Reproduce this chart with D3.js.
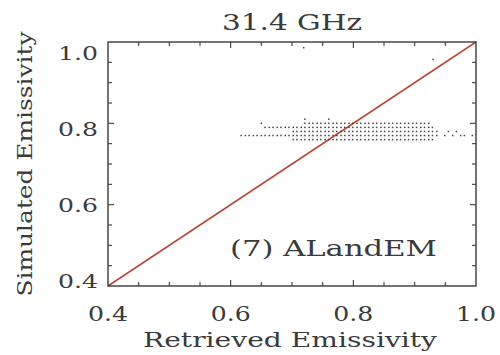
<!DOCTYPE html>
<html><head><meta charset="utf-8">
<script src="https://cdn.jsdelivr.net/npm/d3@7"></script>
<style>html,body{margin:0;padding:0;background:#fff;} svg{display:block;}</style>
</head><body>
<div id="chart"></div>
<script>
const title = "31.4 GHz";
const xLabel = "Retrieved Emissivity";
const yLabel = "Simulated Emissivity";
const note = "(7) ALandEM";
const xTicks = [0.4, 0.6, 0.8, 1.0];
const yTicks = [0.4, 0.6, 0.8, 1.0];
const tickLabels = ["0.4", "0.6", "0.8", "1.0"];
const minorTicks = [0.45,0.5,0.55,0.6,0.65,0.7,0.75,0.8,0.85,0.9,0.95];

// scatter rows: simulated value -> retrieved values
const row081 = [0.721, 0.760];
const row080 = [0.650, 0.721,0.728,0.734,0.741,0.747,0.754,0.760,0.767,0.773,0.780,0.786,0.793,0.799,0.806,0.812,0.819,0.825,0.832,0.838,0.845,0.851,0.858,0.864,0.871,0.877,0.884,0.890,0.897,0.903,0.910,0.916,0.923];
const row079 = [0.656,0.663,0.669,0.676,0.682,0.689,0.695,0.702,0.708,0.715,0.721,0.728,0.734,0.741,0.747,0.754,0.760,0.767,0.773,0.780,0.786,0.793,0.799,0.806,0.812,0.819,0.825,0.832,0.838,0.845,0.851,0.858,0.864,0.871,0.877,0.884,0.890,0.897,0.903,0.910,0.916,0.923,0.929];
const row078 = [0.702,0.708,0.715,0.721,0.728,0.734,0.741,0.747,0.754,0.760,0.767,0.773,0.780,0.786,0.793,0.799,0.806,0.812,0.819,0.825,0.832,0.838,0.845,0.851,0.858,0.864,0.871,0.877,0.884,0.890,0.897,0.903,0.910,0.916,0.923,0.929,0.936,0.955,0.968];
const row077 = [0.617,0.624,0.630,0.637,0.643,0.650,0.656,0.663,0.669,0.676,0.682,0.689,0.695,0.702,0.708,0.715,0.721,0.728,0.734,0.741,0.747,0.754,0.760,0.767,0.773,0.780,0.786,0.793,0.799,0.806,0.812,0.819,0.825,0.832,0.838,0.845,0.851,0.858,0.864,0.871,0.877,0.884,0.890,0.897,0.903,0.910,0.916,0.923,0.929,0.936,0.949,0.962,0.975,0.981,0.994];
const row076 = [0.702,0.708,0.715,0.721,0.728,0.734,0.741,0.747,0.754,0.760,0.767,0.773,0.780,0.786,0.793,0.799,0.806,0.812,0.819,0.825,0.832,0.838,0.845,0.851,0.858,0.864,0.871,0.877,0.884,0.890,0.897,0.903,0.910,0.916,0.923,0.929];
const outliersX = [0.719, 0.930];
const outliersY = [0.986, 0.957];
const oneToOne = [0.4, 1.0];

const rows = [[0.81,row081],[0.80,row080],[0.79,row079],[0.78,row078],[0.77,row077],[0.76,row076]];
const points = [];
rows.forEach(([yv, xs]) => xs.forEach(xv => points.push({x:xv, y:yv})));
outliersX.forEach((xv,i) => points.push({x:xv, y:outliersY[i]}));

const W = 500, H = 355;
const L = 108, R = 476, T = 42, B = 286;
const ink = "#3a3a3a";
const font = "DejaVu Serif";

const svg = d3.select("#chart").append("svg").attr("width", W).attr("height", H);
svg.append("rect").attr("width", W).attr("height", H).attr("fill", "#fff");

const x = d3.scaleLinear().domain([0.4, 1.0]).range([L, R]);
const y = d3.scaleLinear().domain([0.4, 1.0]).range([B, T]);
const yLab = d3.scaleLinear().domain([0.4, 1.0]).range([281, 53]);

// one-to-one line
svg.append("line")
  .attr("x1", x(oneToOne[0])).attr("y1", y(oneToOne[0]))
  .attr("x2", x(oneToOne[1])).attr("y2", y(oneToOne[1]))
  .attr("stroke", "#b8463f").attr("stroke-width", 1.5);

// points
svg.append("g").selectAll("rect").data(points).join("rect")
  .attr("x", d => x(d.x) - 0.75).attr("y", d => y(d.y) - 0.75)
  .attr("width", 1.5).attr("height", 1.5).attr("fill", "#444");

// frame
svg.append("rect").attr("x", L).attr("y", T).attr("width", R - L).attr("height", B - T)
  .attr("fill", "none").attr("stroke", ink).attr("stroke-width", 1.4);

// ticks (inside, all four sides)
const tg = svg.append("g").attr("stroke", ink).attr("stroke-width", 1.1);
minorTicks.forEach(v => {
  const len = (Math.abs(Math.round(v*10) - v*10) < 1e-6 && Math.round(v*10) % 2 === 0) ? 6 : 4;
  tg.append("line").attr("x1", x(v)).attr("x2", x(v)).attr("y1", B).attr("y2", B - len);
  tg.append("line").attr("x1", x(v)).attr("x2", x(v)).attr("y1", T).attr("y2", T + len);
  tg.append("line").attr("y1", y(v)).attr("y2", y(v)).attr("x1", L).attr("x2", L + len);
  tg.append("line").attr("y1", y(v)).attr("y2", y(v)).attr("x1", R).attr("x2", R - len);
});

// tick labels
svg.append("g").selectAll("text").data(xTicks).join("text")
  .attr("x", d => x(d)).attr("y", 321)
  .attr("text-anchor", "middle").attr("font-family", font).attr("font-size", 20)
  .attr("fill", ink).attr("textLength", 40).attr("lengthAdjust", "spacingAndGlyphs")
  .text((d,i) => tickLabels[i]);
svg.append("g").selectAll("text").data(yTicks).join("text")
  .attr("x", 98).attr("y", d => yLab(d)).attr("dy", "0.36em")
  .attr("text-anchor", "end").attr("font-family", font).attr("font-size", 19)
  .attr("fill", ink).attr("textLength", 40).attr("lengthAdjust", "spacingAndGlyphs")
  .text((d,i) => tickLabels[i]);

// title
svg.append("text").attr("x", 292).attr("y", 30).attr("text-anchor", "middle")
  .attr("font-family", font).attr("font-size", 23).attr("fill", ink)
  .attr("textLength", 140).attr("lengthAdjust", "spacingAndGlyphs").text(title);

// axis titles
svg.append("text").attr("x", 290).attr("y", 347).attr("text-anchor", "middle")
  .attr("font-family", font).attr("font-size", 20).attr("fill", ink)
  .attr("textLength", 294).attr("lengthAdjust", "spacingAndGlyphs").text(xLabel);
svg.append("text").attr("transform", "translate(32,164) rotate(-90)").attr("text-anchor", "middle")
  .attr("font-family", font).attr("font-size", 20).attr("fill", ink)
  .attr("textLength", 265).attr("lengthAdjust", "spacingAndGlyphs").text(yLabel);

// annotation
svg.append("text").attr("x", 230).attr("y", 256)
  .attr("font-family", font).attr("font-size", 23).attr("fill", ink)
  .attr("textLength", 207).attr("lengthAdjust", "spacingAndGlyphs").text(note);
</script>
</body></html>
